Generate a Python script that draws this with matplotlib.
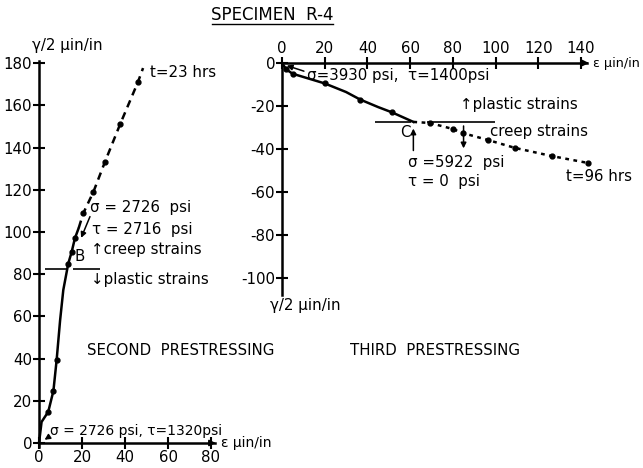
import numpy as np
import matplotlib
matplotlib.use("Agg")
import matplotlib.pyplot as plt
from matplotlib.lines import Line2D

plt.rcParams['font.family'] = ['DejaVu Sans']
plt.rcParams['axes.unicode_minus'] = False

# ----------------------------
# Data
# ----------------------------
# second prestressing: plastic part (solid) and creep part (dashed)
eps2_plastic = [0, 1.2, 4.3, 6.7, 8.2, 9.8, 11.3, 13.6, 15.2, 16.7, 18.5]
gam2_plastic = [0, 10, 14.8, 24.7, 39.3, 58, 72.5, 85, 90.6, 97, 102]
eps2_creep = [18.5, 20.6, 25.3, 30.7, 37.7, 46, 48.4]
gam2_creep = [102, 108.9, 119, 133.3, 151, 171, 177.7]

# third prestressing: plastic part (solid) and creep part (dotted)
eps3_plastic = [0, 2, 5, 10, 20, 30, 36.6, 45, 51.6, 61.5]
gam3_plastic = [0, -3, -5, -6.5, -9.5, -13.5, -17, -20.5, -23, -27.4]
eps3_creep = [61.5, 69.3, 80, 84.7, 96.4, 109.1, 126.4, 143.3]
gam3_creep = [-27.4, -27.9, -30.7, -32.6, -35.8, -39.5, -43.3, -46.5]

left_xticks = [0, 20, 40, 60, 80]
left_yticks = [0, 20, 40, 60, 80, 100, 120, 140, 160, 180]
right_xticks = [0, 20, 40, 60, 80, 100, 120, 140]
right_yticks = [0, -20, -40, -60, -80, -100]

B_LEVEL = 82.5
C_LEVEL = -27.3

W, H = 643, 468
fig = plt.figure(figsize=(W / 100, H / 100), dpi=100)


def make_axes(x0px, y0px, sx, sy, left, right, top, bottom):
    """axes whose data origin sits at pixel (x0px, y0px)"""
    ax = fig.add_axes([left / W, 1 - bottom / H, (right - left) / W, (bottom - top) / H])
    ax.set_xlim((left - x0px) / sx, (right - x0px) / sx)
    ax.set_ylim((y0px - bottom) / sy, (y0px - top) / sy)
    ax.patch.set_visible(False)
    return ax


LW = 1.8
FS = 10.8
ARROW = dict(arrowstyle='-|>', color='black', lw=1.1, mutation_scale=8)

# ----------------------------
# Left: second prestressing
# ----------------------------
ax1 = make_axes(39, 443, 2.15, 2.11, 0, 280, 30, 468)
for s in ['top', 'right']:
    ax1.spines[s].set_visible(False)
ax1.spines['left'].set_position(('data', 0))
ax1.spines['bottom'].set_position(('data', 0))
ax1.spines['left'].set_bounds(-2, 181)
ax1.spines['bottom'].set_bounds(0, 82)
ax1.spines['left'].set_linewidth(LW)
ax1.spines['bottom'].set_linewidth(LW)
ax1.set_xticks(left_xticks)
ax1.set_yticks(left_yticks)
ax1.tick_params(direction='inout', length=8, width=1.5, labelsize=FS, pad=1)
ax1.annotate('', xy=(83.5, 0), xytext=(78, 0),
             arrowprops=dict(arrowstyle='-|>', color='black', lw=1.2, mutation_scale=9))

ax1.plot(eps2_plastic, gam2_plastic, color='black', lw=LW, marker='o', ms=3.5,
         markevery=[2, 3, 4, 7, 8, 9], solid_capstyle='round')
ax1.plot(eps2_creep, gam2_creep, color='black', lw=LW, ls=(0, (3, 2.2)),
         marker='o', ms=3.5, markevery=[1, 2, 3, 4, 5])

ax1.hlines(B_LEVEL, 2.8, 13.5, color='black', lw=1.2)
ax1.hlines(B_LEVEL, 15.8, 28.4, color='black', lw=1.2)

ax1.text(-3.3, 188.5, 'γ/2 µin/in', fontsize=FS, va='center', ha='left')
ax1.text(84.5, 0, 'ε µin/in', fontsize=10, va='center', ha='left')
ax1.text(51.6, 175.4, 't=23 hrs', fontsize=FS, va='center', ha='left')
ax1.text(23.7, 111.4, 'σ = 2726  psi', fontsize=FS, va='center', ha='left')
ax1.text(24.6, 101, 'τ = 2716  psi', fontsize=FS, va='center', ha='left')
ax1.annotate('', xy=(19.1, 96), xytext=(24.2, 108.5), arrowprops=ARROW)
ax1.text(19.1, 88.5, 'B', fontsize=FS, va='center', ha='center')
ax1.text(24.2, 91.5, '↑creep strains', fontsize=FS, va='center', ha='left')
ax1.text(24.2, 77.3, '↓plastic strains', fontsize=FS, va='center', ha='left')
ax1.text(22.3, 44, 'SECOND  PRESTRESSING', fontsize=FS, va='center', ha='left')
ax1.text(5.1, 5.6, 'σ = 2726 psi, τ=1320psi', fontsize=10, va='center', ha='left')
ax1.annotate('', xy=(1.5, 0.8), xytext=(5.5, 3.5), arrowprops=ARROW)

# ----------------------------
# Right: third prestressing
# ----------------------------
ax2 = make_axes(282, 63, 2.136, 2.15, 240, 643, 30, 330)
for s in ['bottom', 'right']:
    ax2.spines[s].set_visible(False)
ax2.spines['left'].set_position(('data', 0))
ax2.spines['top'].set_position(('data', 0))
ax2.spines['left'].set_bounds(-108, 0)
ax2.spines['top'].set_bounds(0, 143)
ax2.spines['left'].set_linewidth(LW)
ax2.spines['top'].set_linewidth(LW)
ax2.xaxis.set_ticks_position('top')
ax2.set_xticks(right_xticks)
ax2.set_yticks(right_yticks)
ax2.tick_params(direction='inout', length=8, width=1.5, labelsize=FS, pad=1)
ax2.annotate('', xy=(145, 0), xytext=(139, 0),
             arrowprops=dict(arrowstyle='-|>', color='black', lw=1.2, mutation_scale=9))

ax2.plot(eps3_plastic, gam3_plastic, color='black', lw=LW, marker='o', ms=3.5,
         markevery=[1, 2, 4, 6, 8])
ax2.plot(eps3_creep, gam3_creep, color='black', lw=LW, ls=(0, (1.5, 1.8)),
         marker='o', ms=3.5, markevery=[1, 2, 3, 4, 5, 6, 7])

ax2.hlines(C_LEVEL, 43.5, 60.5, color='black', lw=1.2)
ax2.hlines(C_LEVEL, 68, 99.7, color='black', lw=1.2)

ax2.text(11.7, -5.8, 'σ=3930 psi,  τ=1400psi', fontsize=FS, va='center', ha='left')
ax2.annotate('', xy=(1.0, -0.8), xytext=(11.5, -4.2), arrowprops=ARROW)
ax2.text(83.4, -19.5, '↑plastic strains', fontsize=FS, va='center', ha='left')
ax2.text(97.4, -32, 'creep strains', fontsize=FS, va='center', ha='left')
ax2.annotate('', xy=(85, -41), xytext=(85, -28), arrowprops=ARROW)
ax2.text(57.6, -32.1, 'C', fontsize=FS, va='center', ha='center')
ax2.annotate('', xy=(61.5, -29.2), xytext=(61.5, -42), arrowprops=ARROW)
ax2.text(59, -46.5, 'σ =5922  psi', fontsize=FS, va='center', ha='left')
ax2.text(59, -55.3, 'τ = 0  psi', fontsize=FS, va='center', ha='left')
ax2.text(133, -53, 't=96 hrs', fontsize=FS, va='center', ha='left')
ax2.text(145.5, 0, 'ε µin/in', fontsize=9.2, va='center', ha='left')
ax2.text(-5.6, -112.6, 'γ/2 µin/in', fontsize=FS, va='center', ha='left')
ax2.text(31.8, -133.5, 'THIRD  PRESTRESSING', fontsize=FS, va='center', ha='left')

# ----------------------------
# Title, underlined
# ----------------------------
fig.text(272 / W, 1 - 15 / H, 'SPECIMEN  R-4', fontsize=12, ha='center', va='center')
fig.add_artist(Line2D([212 / W, 333 / W], [1 - 23.5 / H, 1 - 23.5 / H],
                      transform=fig.transFigure, color='black', lw=1.0))

fig.savefig('out.png', dpi=100)
